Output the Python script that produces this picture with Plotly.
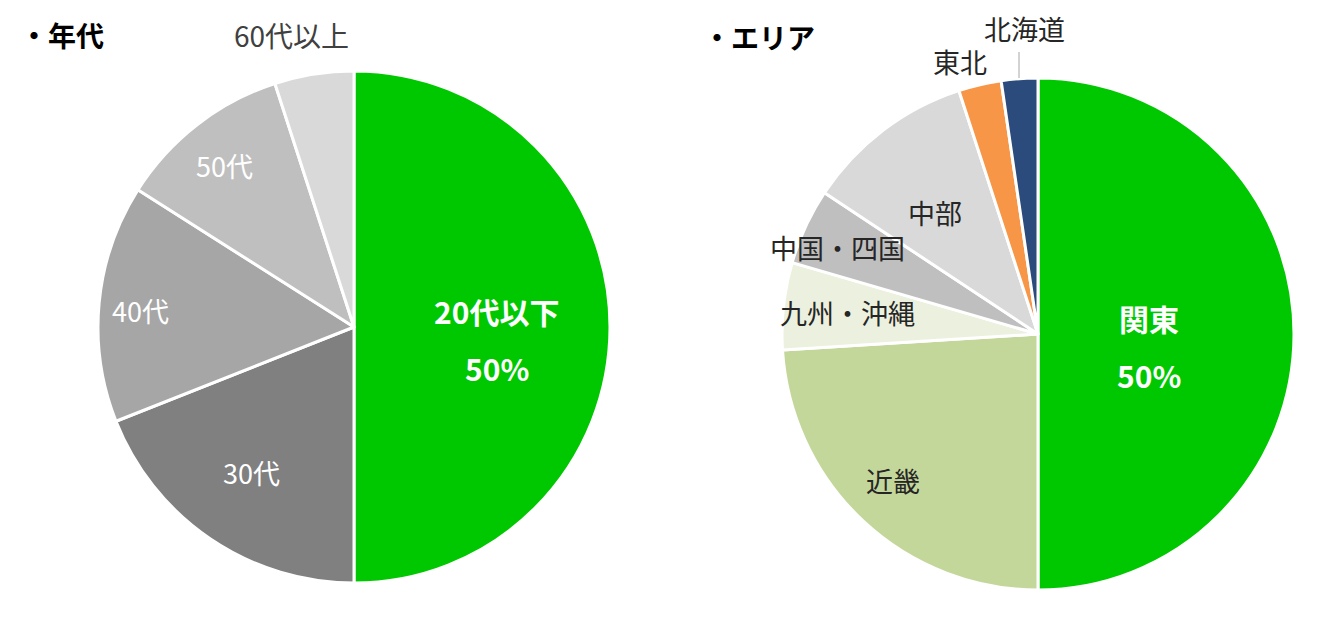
import plotly.graph_objects as go

# ---- data ----
age_labels = ["20代以下", "30代", "40代", "50代", "60代以上"]
age_values = [50, 19, 15, 11, 5]
age_colors = ["#00C800", "#808080", "#A6A6A6", "#BFBFBF", "#D9D9D9"]

area_labels = ["関東", "近畿", "九州・沖縄", "中国・四国", "中部", "東北", "北海道"]
area_values = [50, 24, 5.5, 4.8, 10.7, 2.7, 2.3]
area_colors = ["#00C800", "#C4D79B", "#EBF1DE", "#BFBFBF", "#D9D9D9", "#F79646", "#2A4B7C"]

W, H = 1331, 622
OX, OY = 8, 8          # page body margin offset
TY = -2                # extra vertical text nudge
FONT = "Noto Sans CJK JP"

def px(x):
    return (x - OX) / W

def py(y):
    return 1 - (y - OY) / H

def dom(cx, cy, r):
    return dict(x=[px(cx - r), px(cx + r)], y=[py(cy + r), py(cy - r)])

fig = go.Figure()
fig.add_trace(go.Pie(
    labels=age_labels, values=age_values, sort=False, direction="clockwise", rotation=0,
    marker=dict(colors=age_colors, line=dict(color="white", width=3)),
    textinfo="none", hoverinfo="label+percent", domain=dom(354, 327, 256), showlegend=False,
))
fig.add_trace(go.Pie(
    labels=area_labels, values=area_values, sort=False, direction="clockwise", rotation=0,
    marker=dict(colors=area_colors, line=dict(color="white", width=3)),
    textinfo="none", hoverinfo="label+percent", domain=dom(1038, 334, 256), showlegend=False,
))

def pct(vals, i):
    return f"{round(vals[i] / sum(vals) * 100)}%"

ann = []
def add(text, x, y, size, color, bold=False):
    t = f"<b>{text}</b>" if bold else text
    ann.append(dict(text=t, x=px(x), y=py(y + TY), xref="paper", yref="paper",
                    xanchor="center", yanchor="middle", showarrow=False,
                    font=dict(family=FONT, size=size, color=color)))

# titles
add("・年代", 62, 37, 28, "#000000", bold=True)
add("・エリア", 759, 39, 28, "#000000", bold=True)

# age labels
add(age_labels[0], 497, 313, 30, "white", bold=True)
add(pct(age_values, 0), 497, 370, 30, "white", bold=True)
add(age_labels[1], 251, 474, 27, "white")
add(age_labels[2], 140, 312, 27, "white")
add(age_labels[3], 224, 167, 27, "white")
add(age_labels[4], 291, 37, 28, "#404040")

# area labels
add(area_labels[0], 1149, 320, 30, "white", bold=True)
add(pct(area_values, 0), 1149, 377, 30, "white", bold=True)
add(area_labels[1], 893, 483, 27, "#262626")
add(area_labels[2], 847, 314, 27, "#262626")
add(area_labels[3], 838, 250, 27, "#262626")
add(area_labels[4], 935, 215, 27, "#262626")
add(area_labels[5], 960, 63, 27, "#262626")
add(area_labels[6], 1024, 31, 27, "#262626")

fig.add_shape(type="line", xref="paper", yref="paper",
              x0=px(1019), x1=px(1019), y0=py(52), y1=py(78),
              line=dict(color="#A6A6A6", width=1))

fig.update_layout(
    width=W, height=H, margin=dict(l=0, r=0, t=0, b=0),
    paper_bgcolor="white", plot_bgcolor="white",
    annotations=ann, font=dict(family=FONT),
)
fig.write_html("out.html")
